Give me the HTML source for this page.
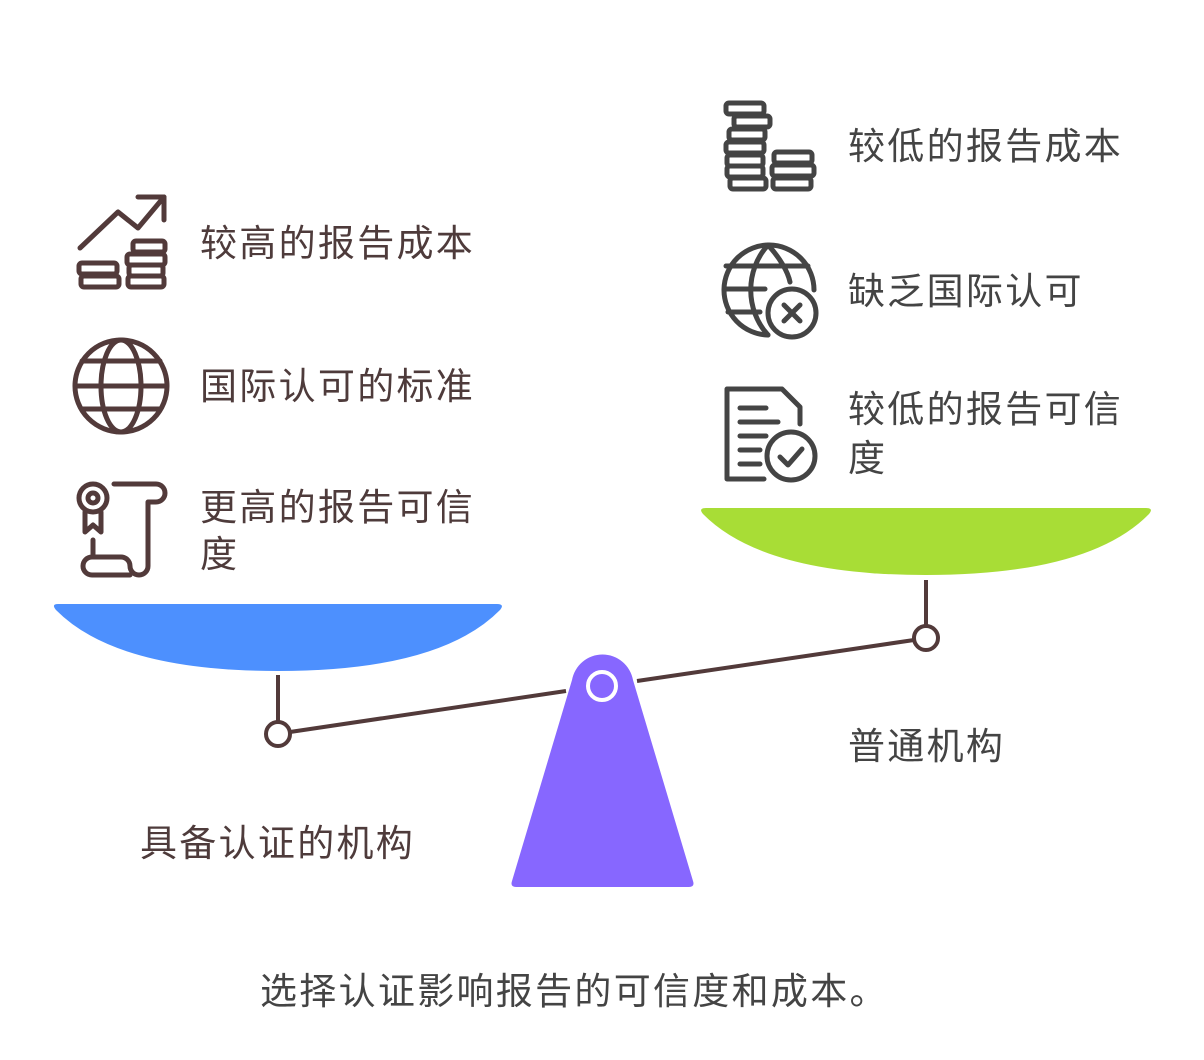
<!DOCTYPE html>
<html><head><meta charset="utf-8"><style>
html,body{margin:0;padding:0;background:#fff;width:1204px;height:1060px;overflow:hidden}
svg text{font-family:"Liberation Sans","Noto Sans CJK SC",sans-serif;font-size:37px;letter-spacing:2.3px}
</style></head><body>
<svg width="1204" height="1060" viewBox="0 0 1204 1060" xmlns="http://www.w3.org/2000/svg">
<path d="M58 604 H497 Q505 604 500 610 Q440 671 278 671 Q116 671 56 610 Q51 604 58 604Z" fill="#4d90fe"/>
<path d="M706 508 H1146 Q1154 508 1149 514 Q1089 575 926 575 Q763 575 703 514 Q698 508 706 508Z" fill="#a8dd36"/>
<g stroke="#523a3a" stroke-width="4" fill="#fff">
<line x1="278" y1="675" x2="278" y2="722"/>
<line x1="926" y1="580" x2="926" y2="626"/>
<line x1="290" y1="732" x2="566" y2="691"/>
<line x1="637" y1="681" x2="914" y2="640"/>
<circle cx="278" cy="734" r="12"/>
<circle cx="926" cy="638" r="12"/>
</g>
<path d="M572 680 A31 31 0 0 1 633 680 L693 881 Q695 887 689 887 H516 Q510 887 512 881 Z" fill="#8767ff"/>
<circle cx="602" cy="686" r="14" fill="none" stroke="#fff" stroke-width="4"/>
<g fill="#4e3b3b">
<text x="200" y="256">较高的报告成本</text>
<text x="200" y="399">国际认可的标准</text>
<text x="200" y="520">更高的报告可信</text>
<text x="200" y="567">度</text>
<text x="140" y="856">具备认证的机构</text>
</g>
<g fill="#444">
<text x="848" y="159">较低的报告成本</text>
<text x="848" y="304">缺乏国际认可</text>
<text x="848" y="422">较低的报告可信</text>
<text x="848" y="471">度</text>
<text x="848" y="759">普通机构</text>
<text x="260" y="1004">选择认证影响报告的可信度和成本。</text>
</g>
<g stroke="#523a3a" stroke-width="5" fill="none" stroke-linecap="round" stroke-linejoin="round">
<polyline points="80,248 118,212 138,228 164,197"/>
<polyline points="138,197 164,197 164,220"/>
<rect x="79" y="263" width="38" height="11" rx="3"/>
<rect x="81" y="276" width="38" height="11" rx="3"/>
<rect x="133" y="241" width="32" height="11" rx="3"/>
<rect x="127" y="254" width="38" height="11" rx="3"/>
<rect x="128" y="276" width="36" height="11" rx="3"/>
<rect x="129" y="265" width="34" height="11" rx="3"/>
<circle cx="121" cy="386" r="46"/>
<ellipse cx="121" cy="386" rx="20" ry="46"/>
<line x1="77" y1="386" x2="165" y2="386"/>
<line x1="82" y1="361" x2="160" y2="361"/>
<line x1="82" y1="409" x2="160" y2="409"/>
<circle cx="93" cy="498" r="14"/>
<circle cx="93" cy="498" r="5"/>
<polyline points="85,512 85,532 93,525 101,532 101,512"/>
<path d="M114 484 H156 A9 9 0 1 1 156 502 H148 V566 A9 9 0 0 1 130 566 A9 9 0 0 0 121 557 H92 A9 9 0 0 0 92 575 H130"/>
<line x1="93" y1="540" x2="93" y2="557"/>
</g>
<g stroke="#444" stroke-width="5" fill="none" stroke-linecap="round" stroke-linejoin="round">
<rect x="726" y="103" width="38" height="11" rx="3"/>
<rect x="734" y="116" width="36" height="11" rx="3"/>
<rect x="729" y="129" width="36" height="11" rx="3"/>
<rect x="726" y="142" width="38" height="11" rx="3"/>
<rect x="727" y="155" width="36" height="11" rx="3"/>
<rect x="730" y="178" width="36" height="11" rx="3"/>
<rect x="727" y="166" width="36" height="11" rx="3"/>
<rect x="774" y="152" width="38" height="11" rx="3"/>
<rect x="772" y="165" width="42" height="11" rx="3"/>
<rect x="773" y="178" width="38" height="11" rx="3"/>
<path d="M768 335 A45 45 0 1 1 814 290"/>
<path d="M768 335 C745 310 745 270 768 245 C780 258 788 272 790 282"/>
<line x1="726" y1="266" x2="808" y2="266"/>
<line x1="725" y1="289" x2="765" y2="289"/>
<line x1="728" y1="312" x2="760" y2="312"/>
<circle cx="792" cy="313" r="24"/>
<line x1="784" y1="305" x2="800" y2="321"/>
<line x1="800" y1="305" x2="784" y2="321"/>
<path d="M764 479 H727 V389 H782 L800 407 V424"/>
<line x1="740" y1="408" x2="766" y2="408"/>
<line x1="740" y1="422" x2="778" y2="422"/>
<line x1="740" y1="436" x2="766" y2="436"/>
<line x1="740" y1="450" x2="760" y2="450"/>
<line x1="740" y1="464" x2="760" y2="464"/>
<circle cx="791" cy="456" r="24"/>
<polyline points="780,457 788,465 802,449"/>
</g>
</svg>
</body></html>
